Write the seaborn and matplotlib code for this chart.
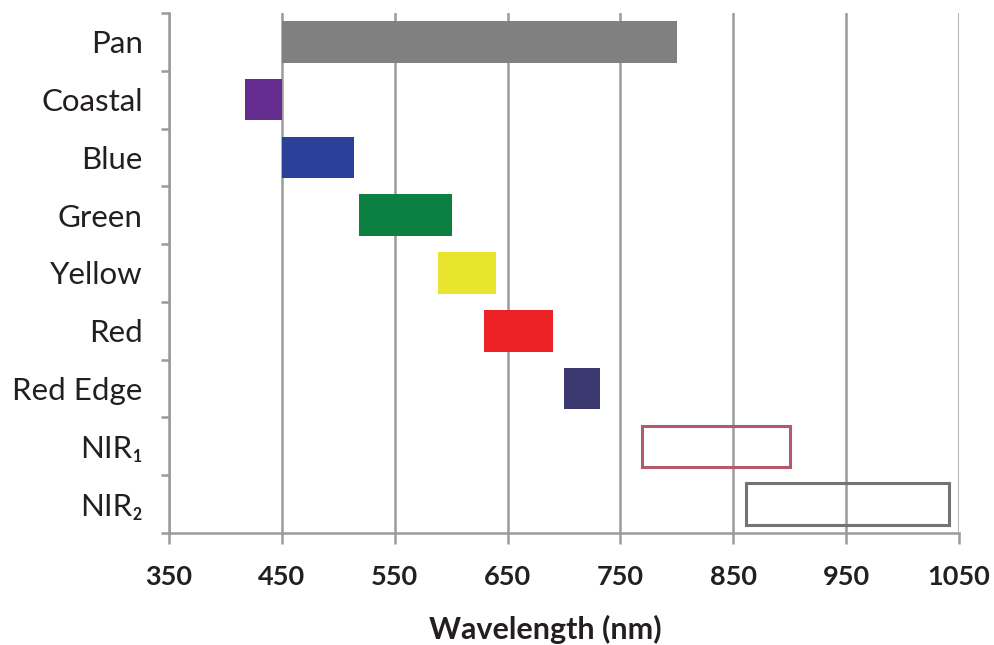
import numpy as np
import seaborn as sns
import matplotlib.pyplot as plt

# band ranges (nm)
bands = ["Pan", "Coastal", "Blue", "Green", "Yellow", "Red", "Red Edge", "NIR₁", "NIR₂"]
band_start = [450, 417, 450, 518, 588, 629, 700, 769, 861]
band_end = [800, 450, 514, 601, 640, 690, 732, 900, 1041]
fill_colors = ["#808080", "#662d91", "#2b4099", "#0b8040", "#e9e52e",
               "#ed2227", "#3b376f", "none", "none"]
edge_colors = ["none", "none", "none", "none", "none",
               "none", "none", "#b25a6b", "#737373"]
x_ticks = [350, 450, 550, 650, 750, 850, 950, 1050]

sns.set_style("white")
plt.rcParams["font.family"] = ["Lato", "DejaVu Sans"]

grid_col = "#9a9a9c"
text_col = "#231f20"

fig = plt.figure(figsize=(9.94, 6.45), dpi=100)
ax = fig.add_axes([169 / 994, 112 / 645, (959 - 169) / 994, 520 / 645])

pos = np.arange(len(bands))
width = np.array(band_end) - np.array(band_start)
ax.barh(pos, width, left=band_start, height=0.72, color=fill_colors,
        edgecolor=edge_colors, linewidth=2.2, zorder=3)

ax.set_xlim(350, 1050)
ax.set_ylim(len(bands) - 0.5, -0.5)

ax.set_xticks(x_ticks)
ax.set_xticklabels([str(t) for t in x_ticks], fontsize=19.5, fontweight="bold",
                   color=text_col)
ax.set_yticks(np.arange(-0.5, len(bands), 1.0))
ax.set_yticklabels([])
ax.set_yticks(pos, minor=True)
ax.set_yticklabels(bands, minor=True, fontsize=22.5, color=text_col)

ax.tick_params(axis="x", bottom=True, direction="out", length=8, width=1.8,
               color=grid_col, pad=15)
ax.tick_params(axis="y", which="major", left=True, direction="out", length=6,
               width=1.8, color=grid_col)
ax.tick_params(axis="y", which="minor", left=True, length=0, pad=19)

ax.grid(axis="x", color=grid_col, linewidth=1.8, zorder=0)
ax.set_axisbelow(True)
for side in ["top", "right"]:
    ax.spines[side].set_visible(False)
for side in ["left", "bottom"]:
    ax.spines[side].set_color(grid_col)
    ax.spines[side].set_linewidth(1.8)

ax.set_xlabel("Wavelength (nm)", fontsize=22, fontweight="bold", color=text_col)
ax.xaxis.set_label_coords(0.476, -0.158)

fig.savefig("out.png", dpi=100)
